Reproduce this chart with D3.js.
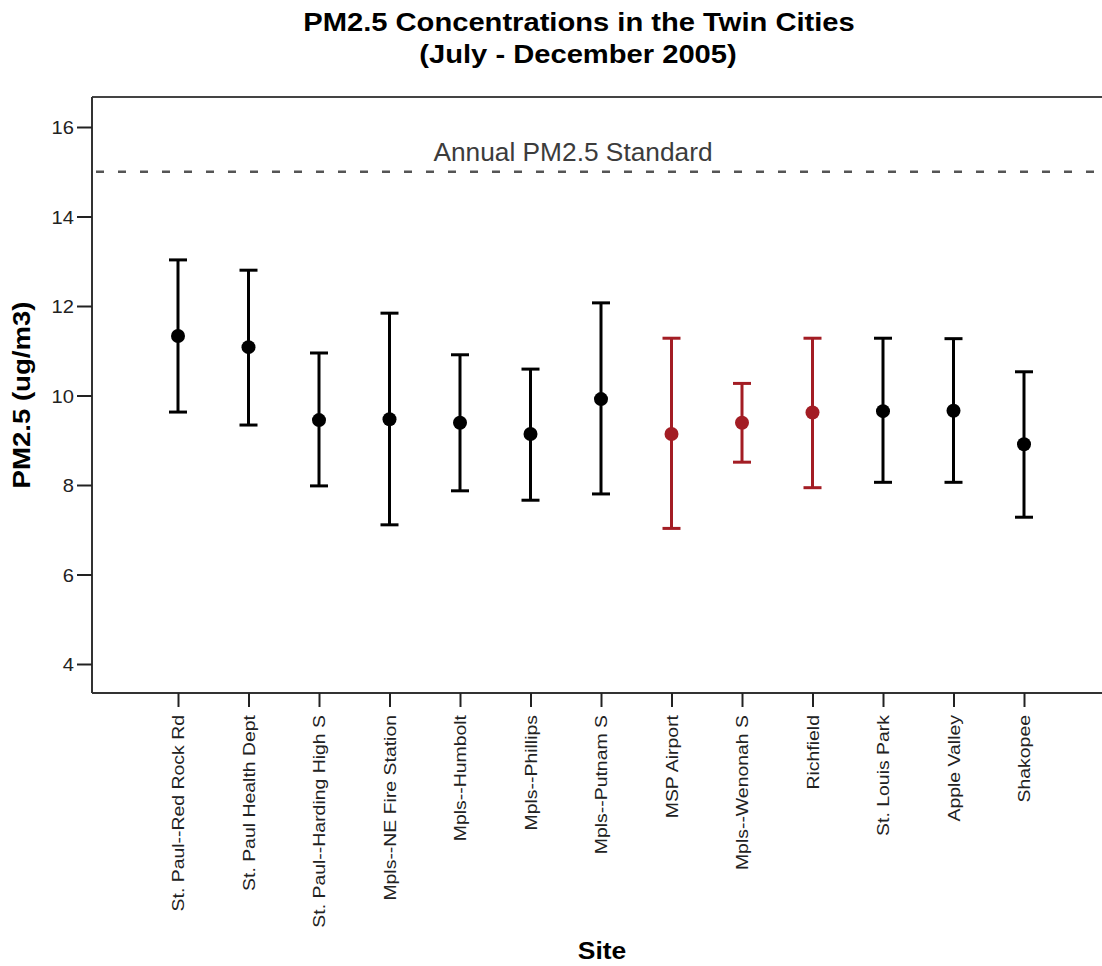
<!DOCTYPE html>
<html>
<head>
<meta charset="utf-8">
<script src="https://cdn.jsdelivr.net/npm/d3@7"></script>
<style>
  html, body { margin: 0; padding: 0; background: #fff; }
  svg { display: block; font-family: "Liberation Sans", Arial, sans-serif; }
</style>
</head>
<body>
<svg id="chart" width="1102" height="966"></svg>
<script>
// ---- data ----
const sites = ["St. Paul--Red Rock Rd", "St. Paul Health Dept", "St. Paul--Harding High S",
  "Mpls--NE Fire Station", "Mpls--Humbolt", "Mpls--Phillips", "Mpls--Putnam S",
  "MSP Airport", "Mpls--Wenonah S", "Richfield", "St. Louis Park", "Apple Valley", "Shakopee"];
const meanValues = [11.33, 11.08, 9.45, 9.47, 9.39, 9.14, 9.92, 9.14, 9.39, 9.62, 9.65, 9.66, 8.91];
const upperValues = [13.03, 12.80, 10.95, 11.84, 10.91, 10.59, 12.07, 11.28, 10.27, 11.28, 11.28, 11.27, 10.53];
const lowerValues = [9.63, 9.34, 7.98, 7.11, 7.87, 7.66, 7.80, 7.03, 8.51, 7.94, 8.06, 8.06, 7.28];
const highlighted = [false, false, false, false, false, false, false, true, true, true, false, false, false];
const yTicks = [4, 6, 8, 10, 12, 14, 16];
const standardValue = 15;
const standardLabel = "Annual PM2.5 Standard";
const titleLines = ["PM2.5 Concentrations in the Twin Cities", "(July - December 2005)"];
const yAxisTitle = "PM2.5 (ug/m3)";
const xAxisTitle = "Site";

// ---- layout ----
const plot = { left: 92, right: 1112, top: 97, bottom: 693 };
const SX = 1.2; // horizontal stretch of the original text rendering
const black = "#000";
const red = "#a31d24";

const svg = d3.select("#chart");

const y = d3.scaleLinear().domain([4, 16]).range([664, 127]);
const x = d3.scalePoint().domain(sites).range([178, 1024]);

// frame
svg.append("line").attr("x1", plot.left).attr("x2", plot.right)
  .attr("y1", plot.top).attr("y2", plot.top)
  .attr("stroke", "#444").attr("stroke-width", 2);
svg.append("line").attr("x1", plot.left).attr("x2", plot.left)
  .attr("y1", plot.top).attr("y2", plot.bottom)
  .attr("stroke", "#333").attr("stroke-width", 2);
svg.append("line").attr("x1", plot.left).attr("x2", plot.right)
  .attr("y1", plot.bottom).attr("y2", plot.bottom)
  .attr("stroke", "#333").attr("stroke-width", 2);

// y axis
const yAxis = d3.axisLeft(y).tickValues(yTicks).tickSize(15).tickPadding(0);
const gy = svg.append("g").attr("transform", `translate(${plot.left},0)`).call(yAxis);
gy.select(".domain").remove();
gy.selectAll(".tick line").attr("stroke", "#222").attr("stroke-width", 2);
gy.selectAll(".tick text").remove();
gy.selectAll(".tick").append("g")
  .attr("transform", "translate(-18,6.5) scale(1.15,1)")
  .append("text")
  .attr("text-anchor", "end")
  .attr("font-size", 17.5)
  .attr("fill", "#222")
  .text(d => d);

// x axis
const xAxis = d3.axisBottom(x).tickSize(14);
const gx = svg.append("g").attr("transform", `translate(0,${plot.bottom})`).call(xAxis);
gx.select(".domain").remove();
gx.selectAll(".tick line").attr("stroke", "#222").attr("stroke-width", 2);
gx.selectAll(".tick text").remove();
gx.selectAll(".tick").append("g")
  .attr("transform", "translate(5.5,22) rotate(-90) scale(" + SX + ",1)")
  .append("text")
  .attr("text-anchor", "end")
  .attr("font-size", 16.2)
  .attr("fill", "#222")
  .text(d => d);

// standard line
svg.append("line")
  .attr("x1", plot.left + 4).attr("x2", plot.right)
  .attr("y1", y(standardValue)).attr("y2", y(standardValue))
  .attr("stroke", "#555").attr("stroke-width", 2.5)
  .attr("stroke-dasharray", "8 14");
svg.append("text")
  .attr("x", 573).attr("y", y(standardValue) - 11)
  .attr("text-anchor", "middle")
  .attr("font-size", 26.3)
  .attr("fill", "#3c3c3c")
  .text(standardLabel);

// error bars
const data = sites.map((s, i) => ({ site: s, mean: meanValues[i], hi: upperValues[i], lo: lowerValues[i], hl: highlighted[i] }));
const bars = svg.append("g").selectAll("g").data(data).join("g")
  .attr("stroke", d => d.hl ? red : black)
  .attr("fill", d => d.hl ? red : black);
bars.append("line")
  .attr("x1", d => x(d.site)).attr("x2", d => x(d.site))
  .attr("y1", d => y(d.hi)).attr("y2", d => y(d.lo))
  .attr("stroke-width", 3);
bars.append("line")
  .attr("x1", d => x(d.site) - 9).attr("x2", d => x(d.site) + 9)
  .attr("y1", d => y(d.hi)).attr("y2", d => y(d.hi))
  .attr("stroke-width", 3);
bars.append("line")
  .attr("x1", d => x(d.site) - 9).attr("x2", d => x(d.site) + 9)
  .attr("y1", d => y(d.lo)).attr("y2", d => y(d.lo))
  .attr("stroke-width", 3);
bars.append("circle")
  .attr("cx", d => x(d.site)).attr("cy", d => y(d.mean))
  .attr("r", 7).attr("stroke", "none");

// titles
svg.append("g").attr("transform", "translate(579,31) scale(1.1,1)")
  .append("text").attr("text-anchor", "middle").attr("font-size", 26.5)
  .attr("font-weight", "bold").attr("fill", "#000").text(titleLines[0]);
svg.append("g").attr("transform", "translate(578,63) scale(1.1,1)")
  .append("text").attr("text-anchor", "middle").attr("font-size", 26.5)
  .attr("font-weight", "bold").attr("fill", "#000").text(titleLines[1]);

svg.append("g").attr("transform", "translate(30,395) rotate(-90) scale(" + SX + ",1)")
  .append("text").attr("text-anchor", "middle").attr("font-size", 23)
  .attr("font-weight", "bold").attr("fill", "#000").text(yAxisTitle);

svg.append("g").attr("transform", "translate(602,959) scale(1.15,1)")
  .append("text").attr("text-anchor", "middle").attr("font-size", 23)
  .attr("font-weight", "bold").attr("fill", "#000").text(xAxisTitle);
</script>
</body>
</html>
